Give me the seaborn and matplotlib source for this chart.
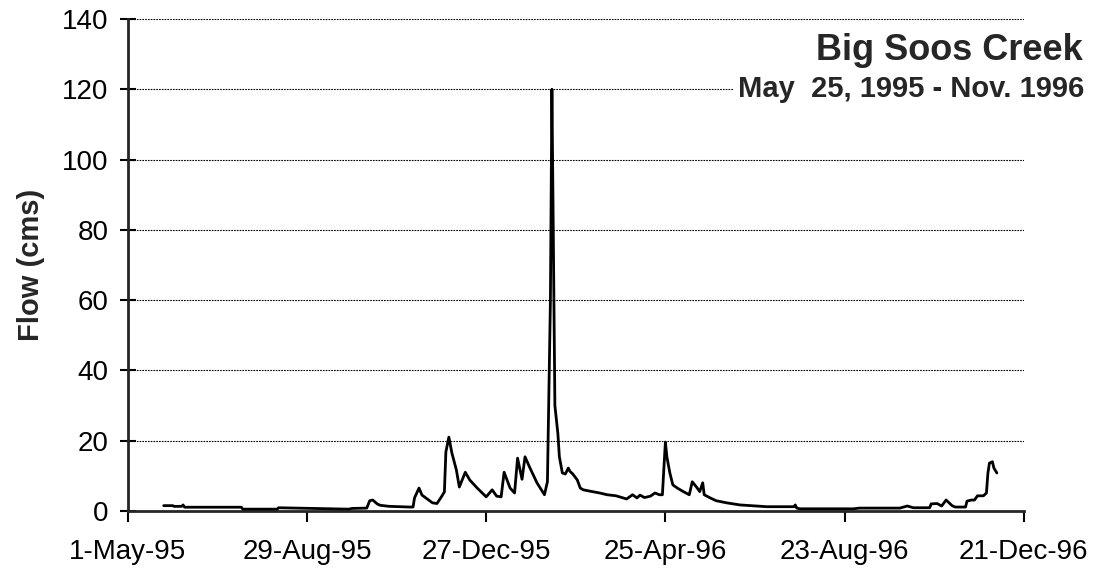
import seaborn as sns
import matplotlib.pyplot as plt
import matplotlib.dates as mdates
import pandas as pd

sns.set_style("ticks")
plt.rcParams['font.family'] = ['Liberation Sans', 'DejaVu Sans']

# flow at the turning points (cms)
dates = ["1995-05-25", "1995-05-31", "1995-06-01", "1995-06-06", "1995-06-07", "1995-06-08",
         "1995-07-16", "1995-07-17", "1995-08-09", "1995-08-10", "1995-09-26", "1995-09-28",
         "1995-10-08", "1995-10-10", "1995-10-12", "1995-10-15", "1995-10-17", "1995-10-23",
         "1995-11-06", "1995-11-08", "1995-11-09", "1995-11-12", "1995-11-14", "1995-11-21",
         "1995-11-24", "1995-11-27", "1995-11-29", "1995-11-30", "1995-12-02", "1995-12-04",
         "1995-12-07", "1995-12-09", "1995-12-13", "1995-12-16", "1995-12-21", "1995-12-27",
         "1995-12-31", "1996-01-03", "1996-01-06", "1996-01-08", "1996-01-12", "1996-01-15",
         "1996-01-17", "1996-01-20", "1996-01-22", "1996-01-25", "1996-01-30", "1996-02-04",
         "1996-02-06", "1996-02-08", "1996-02-09", "1996-02-10", "1996-02-11", "1996-02-13",
         "1996-02-14", "1996-02-16", "1996-02-18", "1996-02-20", "1996-02-21", "1996-02-23",
         "1996-02-26", "1996-02-28", "1996-03-01", "1996-03-07", "1996-03-12", "1996-03-17",
         "1996-03-23", "1996-03-30", "1996-04-03", "1996-04-06", "1996-04-08", "1996-04-11",
         "1996-04-15", "1996-04-18", "1996-04-21", "1996-04-23", "1996-04-24", "1996-04-25",
         "1996-04-26", "1996-04-28", "1996-04-30", "1996-05-03", "1996-05-07", "1996-05-11",
         "1996-05-13", "1996-05-16", "1996-05-18", "1996-05-20", "1996-05-21", "1996-05-25",
         "1996-05-29", "1996-06-05", "1996-06-14", "1996-07-02", "1996-07-20", "1996-07-21",
         "1996-07-22", "1996-07-24", "1996-08-29", "1996-09-02", "1996-09-29", "1996-10-04",
         "1996-10-08", "1996-10-19", "1996-10-20", "1996-10-24", "1996-10-27", "1996-10-30",
         "1996-11-03", "1996-11-05", "1996-11-12", "1996-11-13", "1996-11-16", "1996-11-18",
         "1996-11-20", "1996-11-24", "1996-11-26", "1996-11-27", "1996-11-28", "1996-11-30",
         "1996-12-01", "1996-12-03"]
flow = [1.5, 1.5, 1.3, 1.3, 1.7, 1.05,
        1.05, 0.5, 0.5, 0.9, 0.5, 0.7,
        0.8, 2.9, 3.1, 2.0, 1.6, 1.3,
        1.1, 1.1, 3.7, 6.5, 4.5, 2.3,
        2.1, 4.0, 5.4, 16.8, 21.0, 16.5,
        11.7, 6.8, 11.0, 8.8, 6.5, 4.0,
        6.0, 4.2, 4.0, 11.0, 6.5, 5.1,
        15.0, 9.0, 15.4, 12.5, 8.0, 4.6,
        8.3, 60.0, 120.0, 76.0, 30.0, 22.0,
        15.4, 10.8, 10.5, 12.2, 11.3, 10.5,
        8.8, 6.5, 6.0, 5.5, 5.1, 4.6,
        4.3, 3.4, 4.6, 3.7, 4.5, 3.8,
        4.2, 5.1, 4.6, 4.6, 12.2, 19.6,
        15.4, 10.8, 7.4, 6.5, 5.5, 4.6,
        8.3, 6.7, 5.5, 8.0, 4.6, 3.7,
        2.9, 2.3, 1.7, 1.2, 1.2, 1.7,
        0.8, 0.6, 0.6, 0.8, 0.8, 1.4,
        0.9, 0.9, 2.0, 2.1, 1.4, 3.1,
        1.5, 1.1, 1.1, 2.8, 3.1, 3.1,
        4.3, 4.3, 5.1, 10.8, 13.6, 14.0,
        12.2, 10.8]

tick_dates = ["1995-05-01", "1995-08-29", "1995-12-27", "1996-04-25", "1996-08-23", "1996-12-21"]
y_ticks = [0, 20, 40, 60, 80, 100, 120, 140]

df = pd.DataFrame({"date": pd.to_datetime(dates), "flow": flow})
ticks = pd.to_datetime(tick_dates)

fig = plt.figure(figsize=(11.02, 5.76), dpi=100)
ax = fig.add_axes([0.116, 0.113, 0.813, 0.854])

for y in y_ticks[1:]:
    ax.axhline(y, color="black", lw=0.8, ls=(0, (1.5, 1)), zorder=1)

sns.lineplot(data=df, x="date", y="flow", color="black", lw=2, ax=ax, zorder=3)

ax.set_xlim(ticks[0], ticks[-1])
ax.set_ylim(0, 140)
ax.set_xticks(ticks)
ax.xaxis.set_major_formatter(mdates.DateFormatter("%-d-%b-%y"))
ax.set_yticks(y_ticks)
ax.tick_params(axis="x", direction="out", length=8, width=1.5, labelsize=20, pad=12, colors="black")
ax.tick_params(axis="y", direction="inout", length=12, width=1.5, labelsize=20, pad=8, colors="black")
ax.set_xlabel("")
ax.set_ylabel("Flow (cms)", fontsize=21, fontweight="bold", labelpad=12)
sns.despine(ax=ax)
ax.spines["left"].set_linewidth(2)
ax.spines["bottom"].set_linewidth(2)

ax.text(1.066, 0.935, "Big Soos Creek", transform=ax.transAxes, ha="right", va="center",
        fontsize=26, fontweight="bold")
ax.text(1.068, 0.857, "May  25, 1995 - Nov. 1996", transform=ax.transAxes, ha="right", va="center",
        fontsize=21, fontweight="bold", bbox=dict(facecolor="white", edgecolor="none", pad=3))

fig.savefig("out.png", dpi=100)
